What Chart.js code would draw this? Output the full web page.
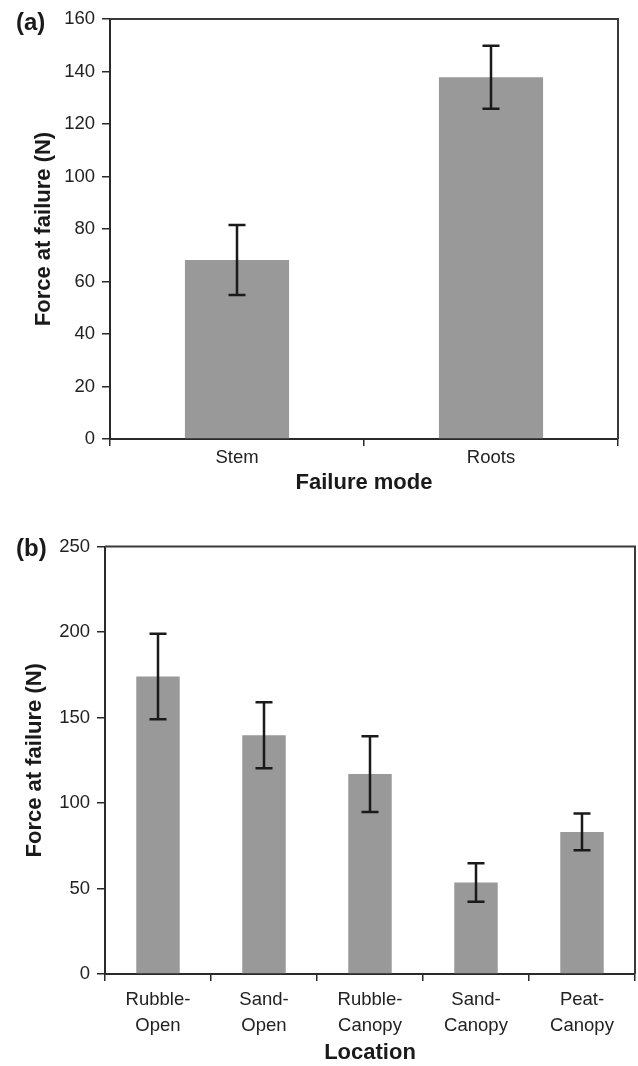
<!DOCTYPE html>
<html lang="en">
<head>
<meta charset="utf-8" />
<title>Force at failure</title>
<style>
body{margin:0;background:#fff;width:638px;height:1066px;position:relative;overflow:hidden;
    font-family:"Liberation Sans",Arial,Helvetica,sans-serif;}
.panel{position:absolute;left:0;}
.tag{position:absolute;left:16px;font-weight:bold;font-size:24px;color:#1a1a1a;line-height:1;}
canvas{display:block;}
</style>
</head>
<body>
<div class="panel" style="top:0"><canvas id="chartA" width="638" height="500"></canvas></div>
<div class="panel" style="top:500px"><canvas id="chartB" width="638" height="566"></canvas></div>
<span class="tag" style="top:10px">(a)</span>
<span class="tag" style="top:536px">(b)</span>

<script src="https://cdn.jsdelivr.net/npm/chart.js@4.4.1"></script>
<script>
/* ---- data ---- */
const modeLabels = ['Stem', 'Roots'];
const modeForce  = [68.2, 137.8];
const modeErr    = [13.3, 12.0];

const siteLabels = [['Rubble-','Open'], ['Sand-','Open'], ['Rubble-','Canopy'], ['Sand-','Canopy'], ['Peat-','Canopy']];
const siteForce  = [174, 139.6, 116.9, 53.5, 83.1];
const siteErr    = [25, 19.3, 22.2, 11.2, 10.7];

const FONT = '"Liberation Sans", Arial, Helvetica, sans-serif';
Chart.defaults.animation = false;
Chart.defaults.font.family = FONT;
Chart.defaults.color = '#222';

/* error bars: drawn from the y scale */
const errBars = {
    id: 'errBars',
    afterDatasetsDraw(chart, args, opts) {
        const {ctx, scales: {y}} = chart;
        const meta = chart.getDatasetMeta(0);
        const vals = chart.data.datasets[0].data;
        ctx.save();
        ctx.strokeStyle = '#1a1a1a';
        ctx.lineWidth = 2.5;
        meta.data.forEach((bar, i) => {
            const x = bar.x;
            const yHi = y.getPixelForValue(vals[i] + opts.err[i]);
            const yLo = y.getPixelForValue(vals[i] - opts.err[i]);
            ctx.beginPath();
            ctx.moveTo(x, yHi); ctx.lineTo(x, yLo);
            ctx.moveTo(x - 8.5, yHi); ctx.lineTo(x + 8.5, yHi);
            ctx.moveTo(x - 8.5, yLo); ctx.lineTo(x + 8.5, yLo);
            ctx.stroke();
        });
        ctx.restore();
    }
};

/* top + right frame lines */
const frame = {
    id: 'frame',
    afterDraw(chart) {
        const {ctx, chartArea: a} = chart;
        ctx.save();
        ctx.strokeStyle = '#3a3a3a';
        ctx.lineWidth = 2;
        ctx.beginPath();
        ctx.moveTo(a.left, a.top); ctx.lineTo(a.right, a.top); ctx.lineTo(a.right, a.bottom);
        ctx.stroke();
        ctx.restore();
    }
};

function makeChart({id, labels, values, err, max, step, pad, yWidth, xHeight, yTitlePad, xTickPad, xTitlePad, lineH, xTitle}) {
    return new Chart(document.getElementById(id), {
        type: 'bar',
        data: {labels, datasets: [{data: values, backgroundColor: '#999999', borderWidth: 0,
            categoryPercentage: 1, barPercentage: 0.41}]},
        plugins: [errBars, frame],
        options: {
            responsive: false,
            layout: {padding: pad},
            plugins: {legend: {display: false}, tooltip: {enabled: false}, errBars: {err}},
            scales: {
                x: {
                    grid: {display: true, drawOnChartArea: false, drawTicks: true, tickLength: 7,
                        color: '#2a2a2a', lineWidth: 1.5, offset: true},
                    border: {display: true, color: '#2a2a2a', width: 2},
                    ticks: {font: {size: 18.5, lineHeight: lineH}, color: '#222', padding: xTickPad, maxRotation: 0},
                    title: {display: true, text: xTitle,
                        font: {size: 22, weight: 'bold'}, color: '#1a1a1a', padding: {top: 0, bottom: xTitlePad}},
                    afterFit(s) { s.height = xHeight; }
                },
                y: {
                    min: 0, max,
                    grid: {display: true, drawOnChartArea: false, drawTicks: true, tickLength: 8,
                        color: '#2a2a2a', lineWidth: 1.5},
                    border: {display: true, color: '#2a2a2a', width: 2},
                    ticks: {stepSize: step, font: {size: 18.5}, color: '#222', padding: 7},
                    title: {display: true, text: 'Force at failure (N)',
                        font: {size: 22, weight: 'bold'}, color: '#1a1a1a', padding: {top: yTitlePad, bottom: 0}},
                    afterFit(s) { s.width = yWidth; }
                }
            }
        }
    });
}

makeChart({id: 'chartA', labels: modeLabels, values: modeForce, err: modeErr, max: 160, step: 20,
    pad: {top: 19, right: 20, left: 0, bottom: 0}, yWidth: 110, xHeight: 61,
    yTitlePad: 31, xTickPad: 1, xTitlePad: 4, lineH: 1.2, xTitle: 'Failure mode'});

makeChart({id: 'chartB', labels: siteLabels, values: siteForce, err: siteErr, max: 250, step: 50,
    pad: {top: 46.5, right: 3, left: 0, bottom: 0}, yWidth: 105, xHeight: 92,
    yTitlePad: 22, xTickPad: 5, xTitlePad: 0, lineH: 1.45, xTitle: 'Location'});
</script>
</body>
</html>
